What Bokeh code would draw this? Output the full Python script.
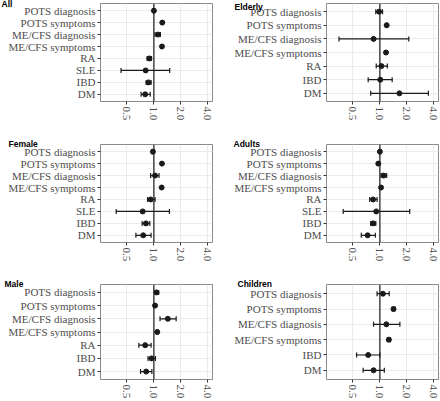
from bokeh.plotting import figure
from bokeh.models import (ColumnDataSource, FactorRange, FixedTicker, PrintfTickFormatter,
                          Whisker, TeeHead, Span)
from bokeh.layouts import column, row
from bokeh.embed import file_html
from bokeh.resources import INLINE

# ---------------- data ----------------
cats8 = ["POTS diagnosis", "POTS symptoms", "ME/CFS diagnosis", "ME/CFS symptoms", "RA", "SLE", "IBD", "DM"]
cats7_no_sle = ["POTS diagnosis", "POTS symptoms", "ME/CFS diagnosis", "ME/CFS symptoms", "RA", "IBD", "DM"]
cats6_child = ["POTS diagnosis", "POTS symptoms", "ME/CFS diagnosis", "ME/CFS symptoms", "IBD", "DM"]

all_est = [1.00, 1.24, 1.11, 1.23, 0.89, 0.81, 0.87, 0.80]
all_lo = [0.98, 1.22, 1.03, 1.21, 0.84, 0.43, 0.82, 0.72]
all_hi = [1.02, 1.26, 1.18, 1.25, 0.94, 1.50, 0.93, 0.91]

eld_est = [0.98, 1.19, 0.85, 1.17, 1.04, 1.01, 1.65]
eld_lo = [0.90, 1.17, 0.35, 1.13, 0.91, 0.74, 0.79]
eld_hi = [1.07, 1.21, 2.10, 1.21, 1.21, 1.37, 3.47]

fem_est = [0.975, 1.23, 1.03, 1.22, 0.92, 0.75, 0.815, 0.76]
fem_lo = [0.95, 1.21, 0.92, 1.20, 0.85, 0.38, 0.74, 0.63]
fem_hi = [1.00, 1.25, 1.14, 1.24, 1.03, 1.49, 0.90, 0.93]

adu_est = [1.00, 0.96, 1.10, 1.03, 0.84, 0.91, 0.84, 0.73]
adu_lo = [0.98, 0.95, 1.03, 1.01, 0.77, 0.39, 0.79, 0.62]
adu_hi = [1.02, 0.97, 1.19, 1.05, 0.93, 2.15, 0.90, 0.89]

mal_est = [1.07, 1.03, 1.43, 1.09, 0.80, 0.94, 0.82]
mal_lo = [1.03, 1.01, 1.17, 1.07, 0.68, 0.86, 0.71]
mal_hi = [1.13, 1.05, 1.77, 1.11, 0.93, 1.04, 0.95]

chi_est = [1.08, 1.42, 1.18, 1.26, 0.74, 0.85]
chi_lo = [0.93, 1.37, 0.85, 1.21, 0.55, 0.65]
chi_hi = [1.27, 1.47, 1.67, 1.31, 1.00, 1.12]

x_ticks = [0.5, 1.0, 2.0, 4.0]

SERIF = "Liberation Serif"
SANS = "Liberation Sans"
FRAME_W = 112
FRAME_H = 98


def panel(title, cats, est, lo, hi, left_col, top, bottom, title_x, title_standoff):
    if left_col:
        bl, br = 100, 8
    else:
        bl, br = 106, 2
    w = bl + FRAME_W + br
    h = top + FRAME_H + bottom
    yr = FactorRange(factors=list(reversed(cats)), range_padding=0.1,
                     range_padding_units="absolute")
    p = figure(width=w, height=h, x_axis_type="log", x_range=(0.254, 4.5), y_range=yr,
               output_backend="svg", toolbar_location=None,
               min_border_left=bl, min_border_right=br, min_border_top=top,
               min_border_bottom=bottom)
    p.background_fill_color = "white"
    p.border_fill_color = "white"
    p.outline_line_color = "#8a8a8a"
    p.outline_line_width = 1

    # panel tag (top-left, overlapping the first row label like the original)
    p.title.text = title
    p.title.align = "left"
    p.title.offset = title_x - bl
    p.title.standoff = title_standoff
    p.title.text_font = SANS
    p.title.text_font_style = "bold"
    p.title.text_font_size = "8.5px"
    p.title.text_color = "black"

    src = ColumnDataSource(dict(cat=cats, est=est, lo=lo, hi=hi))

    p.xaxis.ticker = FixedTicker(ticks=x_ticks)
    p.xaxis.formatter = PrintfTickFormatter(format="%.1f")
    p.xaxis.major_label_orientation = "vertical"
    for ax in (p.xaxis[0], p.yaxis[0]):
        ax.axis_line_color = None
        ax.major_tick_line_color = "#333333"
        ax.major_tick_out = 3
        ax.major_tick_in = 0
        ax.minor_tick_line_color = None
        ax.major_label_text_font = SERIF
        ax.major_label_text_font_size = "11px"
        ax.major_label_text_color = "#4D4D4D"
        ax.major_label_standoff = 2
    p.xgrid.grid_line_color = "#EBEBEB"
    p.ygrid.grid_line_color = "#EBEBEB"

    p.add_layout(Span(location=1.0, dimension="height", line_color="#1a1a1a", line_width=1.2))

    wh = Whisker(source=src, base="cat", lower="lo", upper="hi", dimension="width",
                 line_color="#1a1a1a", line_width=1.2,
                 upper_head=TeeHead(size=5, line_color="#1a1a1a", line_width=1.2),
                 lower_head=TeeHead(size=5, line_color="#1a1a1a", line_width=1.2))
    p.add_layout(wh)
    p.scatter(x="est", y="cat", source=src, size=5, color="#1a1a1a")
    return p


f_all = panel("All", cats8, all_est, all_lo, all_hi, True, 3, 31, 1, -11)
f_eld = panel("Elderly", cats7_no_sle, eld_est, eld_lo, eld_hi, False, 3, 31, 14, -17)
f_fem = panel("Female", cats8, fem_est, fem_lo, fem_hi, True, 12, 32, 8, -8)
f_adu = panel("Adults", cats8, adu_est, adu_lo, adu_hi, False, 12, 32, 13, -8)
f_mal = panel("Male", cats7_no_sle, mal_est, mal_lo, mal_hi, True, 10, 19, 4, -8)
f_chi = panel("Children", cats6_child, chi_est, chi_lo, chi_hi, False, 10, 19, 17, -8)

layout = column(row(f_all, f_eld), row(f_fem, f_adu), row(f_mal, f_chi))

open("out.html", "w").write(file_html(layout, INLINE))
